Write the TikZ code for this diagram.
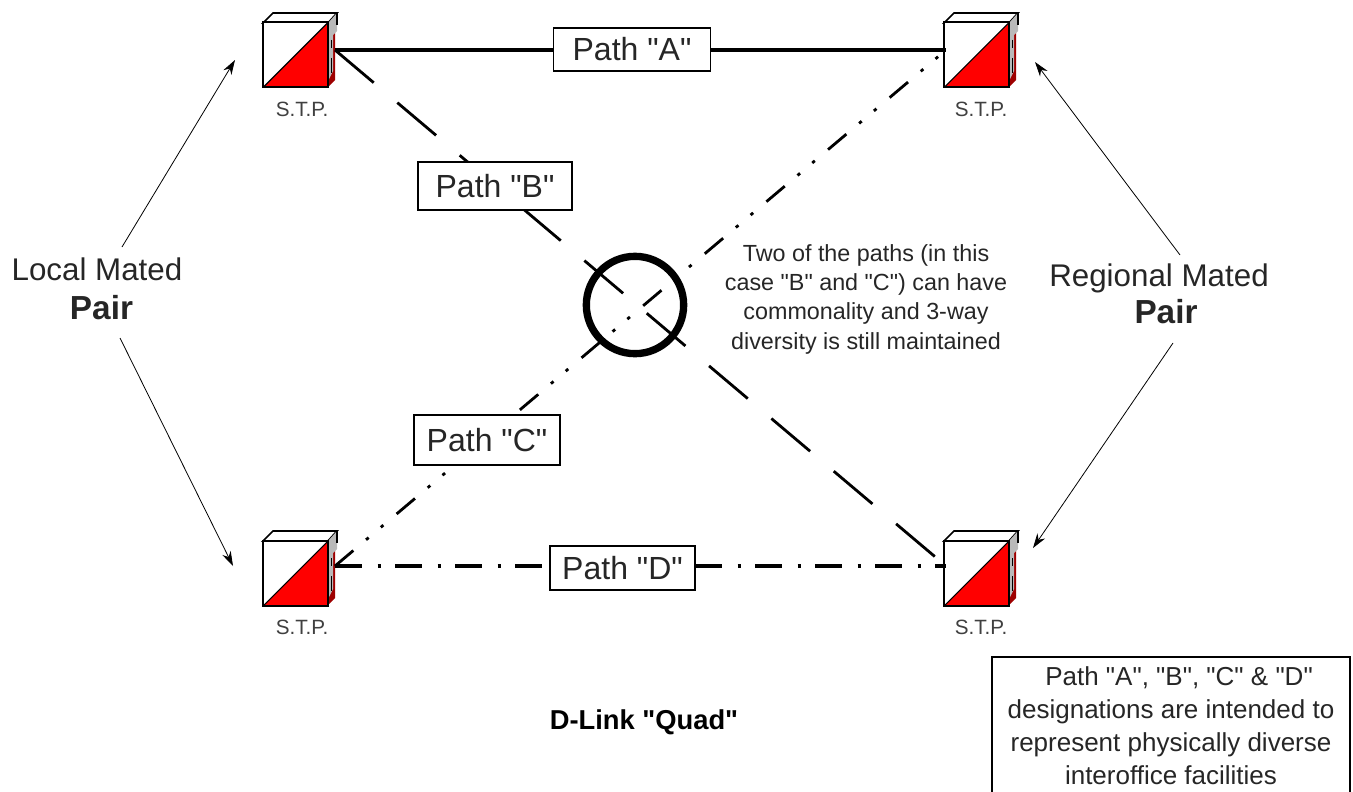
\documentclass[tikz,border=0pt]{standalone}
\usepackage{fontspec}
\newfontfamily\plainfont{Liberation Sans}
\AtBeginDocument{\plainfont}
\newcommand{\fsz}[2][0]{\fontsize{#2}{#2}\selectfont}
\newcommand{\fszl}[2]{\fontsize{#1}{#2}\selectfont}
\usetikzlibrary{arrows.meta}
\tikzset{
 x=0.75pt,y=-0.75pt,
 stpbox/.style={draw=black,line width=1.5pt,fill=white,minimum width=48.75pt,minimum height=48.75pt,inner sep=0pt,outer sep=0pt},
 stplabel/.style={font=\fsz{15.5},inner sep=0pt,text=black!75},
 pathbox/.style={draw=black,line width=1.1pt,fill=white,inner sep=0pt,font=\fsz{24},text=black!85},
 biglabel/.style={align=center,inner sep=0pt,text=black!85},
 thinarrow/.style={-{Stealth[length=11pt,width=7pt]},line width=0.6pt},
 heavy/.style={line width=2.1pt},
 dashB/.style={heavy,dash pattern=on 38pt off 23.2pt},
 dashC/.style={heavy,dash pattern=on 18pt off 12.5pt on 2.5pt off 12pt on 2.5pt off 13pt},
 dashD/.style={heavy,line width=2.3pt,dash pattern=on 20pt off 12pt on 2.5pt off 10.5pt},
 stp/.pic={
  \fill[red!62!black] (65,12) -- (72,8) -- (72,57) -- (65,64) -- cycle;
  \draw[line width=1.3pt,fill=white] (0,0) -- (10,-10) -- (74,-10) -- (65,0) -- cycle;
  \fill[gray!55] (65,0) -- (74,-10) -- (74,8) -- (70,12) -- (70,48) -- (65,58) -- cycle;
  \draw[line width=1.3pt] (74,-10) -- (74,2);
  \draw[line width=1.3pt] (68.5,17) -- (68.5,25) (68.5,35) -- (68.5,50);
 },
}
\begin{document}
\begin{tikzpicture}
\useasboundingbox (0,0) rectangle (1353,792);
\pic at (263,23) {stp};
\pic at (944,23) {stp};
\pic at (263,541) {stp};
\pic at (944,541) {stp};
\foreach \n/\xx/\yy in {tl/295.5/55,tr/976.5/55,bl/295.5/573.5,br/976.5/573.5}{
  \node[stpbox] (\n) at (\xx,\yy) {};
  \fill[red] (\n.south west) -- (\n.north east) -- (\n.south east) -- cycle;
  \draw[line width=1.5pt] (\n.south west) rectangle (\n.north east);
  \draw[line width=0.8pt] (\n.south west) -- (\n.north east);
}
\node[stplabel] (ltl) at (302,109) {S.T.P.};
\node[stplabel] (ltr) at (981,109) {S.T.P.};
\node[stplabel] (lbl) at (302,627) {S.T.P.};
\node[stplabel] (lbr) at (981,627) {S.T.P.};
% free ends of the links
\coordinate (a1) at (335,50);
\coordinate (a2) at (946,50);
\coordinate (d1) at (335,566);
\coordinate (d2) at (946,566);
% links
\draw[line width=2.4pt] (a1) -- (a2);
\draw[dashB] (a1) -- (d2);
\draw[dashC] (d1) -- (a2);
\draw[dashD] (d1) -- (d2);
% circle
\node[draw=black,circle,line width=5.5pt,minimum size=73pt,inner sep=0pt] (ring) at (635,305) {};
% path labels
\node[pathbox,minimum width=118pt,minimum height=32pt] (pa) at (632,49.5) {Path "A"};
\node[pathbox,minimum width=115.5pt,minimum height=36pt] (pb) at (495,186) {Path "B"};
\node[pathbox,minimum width=109.5pt,minimum height=37.5pt] (pc) at (487,440) {Path "C"};
\node[pathbox,minimum width=109pt,minimum height=33pt] (pd) at (622.5,568) {Path "D"};
% side labels
\node[biglabel] (local) at (97,289) {\fszl{23.5}{23.5}Local Mated\\[9.5pt]\hspace*{6.75pt}\fszl{25}{25}\bfseries Pair};
\node[biglabel] (regional) at (1159,294) {\fszl{23.5}{23.5}Regional Mated\\[4pt]\hspace*{10.5pt}\fszl{25}{25}\bfseries Pair};
\coordinate (s1) at (122,247);
\coordinate (e1) at (235,60);
\coordinate (s2) at (120,338);
\coordinate (e2) at (233,566);
\coordinate (s3) at (1180,255);
\coordinate (e3) at (1035,62);
\coordinate (s4) at (1173,343);
\coordinate (e4) at (1033,548);
\draw[thinarrow] (s1) -- (e1);
\draw[thinarrow] (s2) -- (e2);
\draw[thinarrow] (s3) -- (e3);
\draw[thinarrow] (s4) -- (e4);
% note
\node[font=\fszl{17.5}{22},align=center,inner sep=0pt,text=black!85] (note) at (866,299) {Two of the paths (in this\\case "B" and "C") can have\\commonality and 3-way\\diversity is still maintained};
\node[font=\fsz{20.5}\bfseries,inner sep=0pt] (title) at (644,722) {D-Link "Quad"};
\node[draw=black,line width=1.1pt,fill=white,font=\fszl{19.5}{24.75},align=center,inner sep=0pt,text=black!85,minimum width=268.5pt,minimum height=103.5pt] (legend) at (1171,726) {\hspace*{12pt}Path "A", "B", "C" \& "D"\\designations are intended to\\represent physically diverse\\interoffice facilities};
\end{tikzpicture}
\end{document}
